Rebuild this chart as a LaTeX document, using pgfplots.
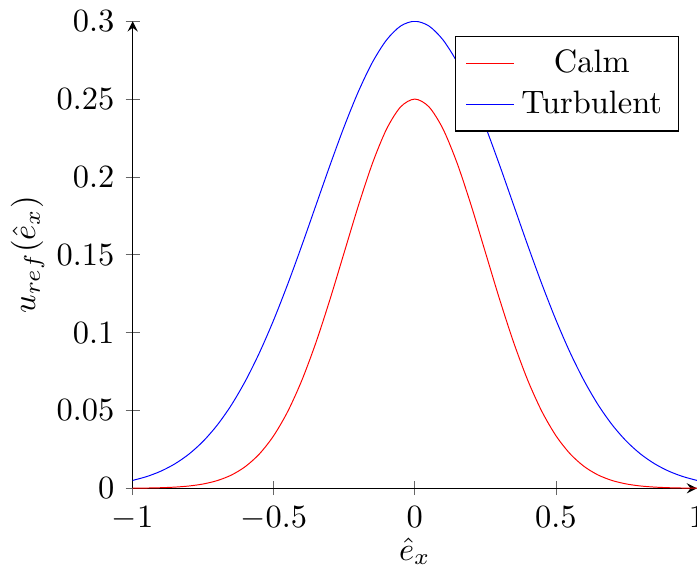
\documentclass[border=0pt]{standalone}
\usepackage{pgfplots}
\pgfplotsset{compat=1.18}
\begin{document}
\begin{tikzpicture}[trim axis right]
\begin{axis}[
    scale only axis,
    width=174pt,
    height=144pt,
    axis lines=left,
    xmin=-1, xmax=1,
    ymin=0, ymax=0.3,
    ytick distance=0.05,
    yticklabel style={/pgf/number format/fixed, /pgf/number format/precision=2},
    xlabel={$\hat{e}_x$},
    ylabel={$u_{ref}(\hat{e}_x)$},
    ylabel style={at={(axis description cs:-0.136,0.5)}, anchor=south},
    xlabel style={at={(axis description cs:0.5,-0.081)}, anchor=north},
    major tick style={black!60},
    every axis plot/.append style={line width=0.3pt},
    legend cell align=center,
    legend image code/.code={\draw[#1] (0cm,0cm) -- (0.52cm,0cm);},
    legend style={at={(0.968,0.968)}, anchor=north east},
]
\addlegendimage{red, line width=0.45pt}
\addlegendentry{Calm}
\addlegendimage{blue, line width=0.35pt}
\addlegendentry{Turbulent}
% Calm
\addplot[red, smooth, forget plot] coordinates {
(-1.00,0.00008) (-0.95,0.00018) (-0.90,0.00038) (-0.85,0.00077) (-0.80,0.00149)
(-0.75,0.00278) (-0.70,0.00496) (-0.65,0.00851) (-0.60,0.01403) (-0.55,0.02223)
(-0.50,0.03383) (-0.45,0.04947) (-0.40,0.06951) (-0.35,0.09383) (-0.30,0.12169)
(-0.25,0.15163) (-0.20,0.18154) (-0.15,0.20882) (-0.10,0.23078) (-0.05,0.24505)
(0.00,0.25000)
(0.05,0.24505) (0.10,0.23078) (0.15,0.20882) (0.20,0.18154) (0.25,0.15163)
(0.30,0.12169) (0.35,0.09383) (0.40,0.06951) (0.45,0.04947) (0.50,0.03383)
(0.55,0.02223) (0.60,0.01403) (0.65,0.00851) (0.70,0.00496) (0.75,0.00278)
(0.80,0.00149) (0.85,0.00077) (0.90,0.00038) (0.95,0.00018) (1.00,0.00008)
};
% Turbulent
\addplot[blue, smooth, forget plot] coordinates {
(-1.00,0.00507) (-0.95,0.00755) (-0.90,0.01101) (-0.85,0.01574) (-0.80,0.02203)
(-0.75,0.03023) (-0.70,0.04064) (-0.65,0.05351) (-0.60,0.06907) (-0.55,0.08732)
(-0.50,0.10818) (-0.45,0.13132) (-0.40,0.15617) (-0.35,0.18200) (-0.30,0.20780)
(-0.25,0.23248) (-0.20,0.25483) (-0.15,0.27369) (-0.10,0.28801) (-0.05,0.29696)
(0.00,0.30000)
(0.05,0.29696) (0.10,0.28801) (0.15,0.27369) (0.20,0.25483) (0.25,0.23248)
(0.30,0.20780) (0.35,0.18200) (0.40,0.15617) (0.45,0.13132) (0.50,0.10818)
(0.55,0.08732) (0.60,0.06907) (0.65,0.05351) (0.70,0.04064) (0.75,0.03023)
(0.80,0.02203) (0.85,0.01574) (0.90,0.01101) (0.95,0.00755) (1.00,0.00507)
};
\end{axis}
\end{tikzpicture}
\end{document}
